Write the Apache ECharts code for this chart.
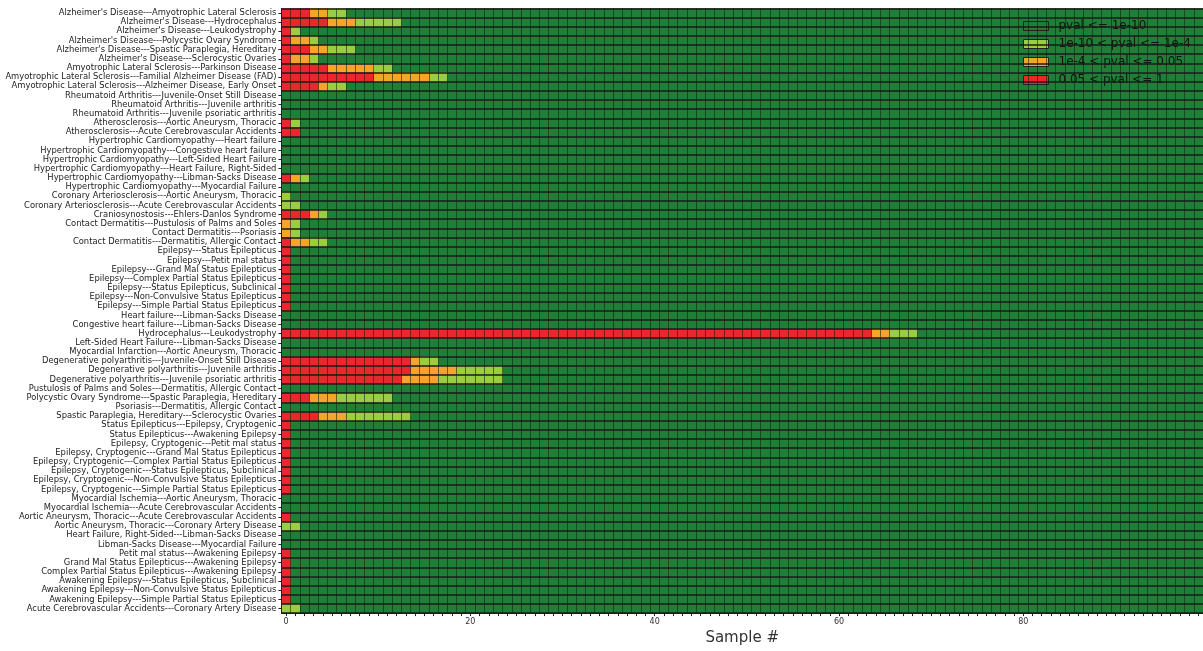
<!DOCTYPE html>
<html>
<head>
<meta charset="utf-8">
<script src="https://cdn.jsdelivr.net/npm/echarts@6/dist/echarts.min.js"></script>
<style>
  html, body { margin: 0; padding: 0; background: #ffffff; }
  #chart { width: 1203px; height: 651px; }
</style>
</head>
<body>
<div id="chart"></div>
<script>
// Disease pairs, one row each (top to bottom)
const pairLabels = [
  "Alzheimer's Disease---Amyotrophic Lateral Sclerosis",
  "Alzheimer's Disease---Hydrocephalus",
  "Alzheimer's Disease---Leukodystrophy",
  "Alzheimer's Disease---Polycystic Ovary Syndrome",
  "Alzheimer's Disease---Spastic Paraplegia, Hereditary",
  "Alzheimer's Disease---Sclerocystic Ovaries",
  "Amyotrophic Lateral Sclerosis---Parkinson Disease",
  "Amyotrophic Lateral Sclerosis---Familial Alzheimer Disease (FAD)",
  "Amyotrophic Lateral Sclerosis---Alzheimer Disease, Early Onset",
  "Rheumatoid Arthritis---Juvenile-Onset Still Disease",
  "Rheumatoid Arthritis---Juvenile arthritis",
  "Rheumatoid Arthritis---Juvenile psoriatic arthritis",
  "Atherosclerosis---Aortic Aneurysm, Thoracic",
  "Atherosclerosis---Acute Cerebrovascular Accidents",
  "Hypertrophic Cardiomyopathy---Heart failure",
  "Hypertrophic Cardiomyopathy---Congestive heart failure",
  "Hypertrophic Cardiomyopathy---Left-Sided Heart Failure",
  "Hypertrophic Cardiomyopathy---Heart Failure, Right-Sided",
  "Hypertrophic Cardiomyopathy---Libman-Sacks Disease",
  "Hypertrophic Cardiomyopathy---Myocardial Failure",
  "Coronary Arteriosclerosis---Aortic Aneurysm, Thoracic",
  "Coronary Arteriosclerosis---Acute Cerebrovascular Accidents",
  "Craniosynostosis---Ehlers-Danlos Syndrome",
  "Contact Dermatitis---Pustulosis of Palms and Soles",
  "Contact Dermatitis---Psoriasis",
  "Contact Dermatitis---Dermatitis, Allergic Contact",
  "Epilepsy---Status Epilepticus",
  "Epilepsy---Petit mal status",
  "Epilepsy---Grand Mal Status Epilepticus",
  "Epilepsy---Complex Partial Status Epilepticus",
  "Epilepsy---Status Epilepticus, Subclinical",
  "Epilepsy---Non-Convulsive Status Epilepticus",
  "Epilepsy---Simple Partial Status Epilepticus",
  "Heart failure---Libman-Sacks Disease",
  "Congestive heart failure---Libman-Sacks Disease",
  "Hydrocephalus---Leukodystrophy",
  "Left-Sided Heart Failure---Libman-Sacks Disease",
  "Myocardial Infarction---Aortic Aneurysm, Thoracic",
  "Degenerative polyarthritis---Juvenile-Onset Still Disease",
  "Degenerative polyarthritis---Juvenile arthritis",
  "Degenerative polyarthritis---Juvenile psoriatic arthritis",
  "Pustulosis of Palms and Soles---Dermatitis, Allergic Contact",
  "Polycystic Ovary Syndrome---Spastic Paraplegia, Hereditary",
  "Psoriasis---Dermatitis, Allergic Contact",
  "Spastic Paraplegia, Hereditary---Sclerocystic Ovaries",
  "Status Epilepticus---Epilepsy, Cryptogenic",
  "Status Epilepticus---Awakening Epilepsy",
  "Epilepsy, Cryptogenic---Petit mal status",
  "Epilepsy, Cryptogenic---Grand Mal Status Epilepticus",
  "Epilepsy, Cryptogenic---Complex Partial Status Epilepticus",
  "Epilepsy, Cryptogenic---Status Epilepticus, Subclinical",
  "Epilepsy, Cryptogenic---Non-Convulsive Status Epilepticus",
  "Epilepsy, Cryptogenic---Simple Partial Status Epilepticus",
  "Myocardial Ischemia---Aortic Aneurysm, Thoracic",
  "Myocardial Ischemia---Acute Cerebrovascular Accidents",
  "Aortic Aneurysm, Thoracic---Acute Cerebrovascular Accidents",
  "Aortic Aneurysm, Thoracic---Coronary Artery Disease",
  "Heart Failure, Right-Sided---Libman-Sacks Disease",
  "Libman-Sacks Disease---Myocardial Failure",
  "Petit mal status---Awakening Epilepsy",
  "Grand Mal Status Epilepticus---Awakening Epilepsy",
  "Complex Partial Status Epilepticus---Awakening Epilepsy",
  "Awakening Epilepsy---Status Epilepticus, Subclinical",
  "Awakening Epilepsy---Non-Convulsive Status Epilepticus",
  "Awakening Epilepsy---Simple Partial Status Epilepticus",
  "Acute Cerebrovascular Accidents---Coronary Artery Disease"
];

const sampleCount = 100;

// Samples are sorted by p-value within each row: the first ones are the
// least significant. Number of samples per row in each p-value band:
// 0.05 < pval <= 1
const redCells = [
  3, 5, 1, 1, 3, 1, 5, 10, 4,
  0, 0, 0,
  1, 2,
  0, 0, 0, 0,
  1, 0,
  0, 0,
  3, 0, 0, 1,
  1, 1, 1, 1, 1, 1, 1,
  0, 0,
  64,
  0, 0,
  14, 14, 13,
  0, 3, 0, 4,
  1, 1, 1, 1, 1, 1, 1, 1,
  0, 0,
  1, 0,
  0, 0,
  1, 1, 1, 1, 1, 1,
  0
];
// 1e-4 < pval <= 0.05
const orangeCells = [
  2, 3, 0, 2, 2, 2, 5, 6, 1,
  0, 0, 0,
  0, 0,
  0, 0, 0, 0,
  1, 0,
  0, 0,
  1, 1, 1, 2,
  0, 0, 0, 0, 0, 0, 0,
  0, 0,
  2,
  0, 0,
  1, 5, 4,
  0, 3, 0, 3,
  0, 0, 0, 0, 0, 0, 0, 0,
  0, 0,
  0, 0,
  0, 0,
  0, 0, 0, 0, 0, 0,
  0
];
// 1e-10 < pval <= 1e-4
const lightGreenCells = [
  2, 5, 1, 1, 3, 1, 2, 2, 2,
  0, 0, 0,
  1, 0,
  0, 0, 0, 0,
  1, 0,
  1, 2,
  1, 1, 1, 2,
  0, 0, 0, 0, 0, 0, 0,
  0, 0,
  3,
  0, 0,
  2, 5, 7,
  0, 6, 0, 7,
  0, 0, 0, 0, 0, 0, 0, 0,
  0, 0,
  0, 2,
  0, 0,
  0, 0, 0, 0, 0, 0,
  2
];

const bandNames = [
  'pval <= 1e-10',
  '1e-10 < pval <= 1e-4',
  '1e-4 < pval <= 0.05',
  '0.05 < pval <= 1'
];
const bandColors = ['#1f7f37', '#9acd3f', '#f6a42a', '#e8282c'];

const sampleLabels = Array.from({ length: sampleCount }, (_, i) => String(i));

// Split every (sample, row) cell into its band
const cellsByBand = [[], [], [], []];
pairLabels.forEach((_, row) => {
  const r = redCells[row];
  const o = orangeCells[row];
  const g = lightGreenCells[row];
  for (let s = 0; s < sampleCount; s++) {
    let band = 0;
    if (s < r) band = 3;
    else if (s < r + o) band = 2;
    else if (s < r + o + g) band = 1;
    cellsByBand[band].push([s, row, band]);
  }
});

const chart = echarts.init(document.getElementById('chart'), null, { renderer: 'canvas' });

const font = 'DejaVu Sans';

chart.setOption({
  animation: false,
  backgroundColor: '#ffffff',
  textStyle: { fontFamily: font },
  grid: { left: 281.4, top: 8.4, width: 923, height: 609.2, containLabel: false },
  legend: {
    orient: 'vertical',
    left: 1023,
    top: 20,
    padding: 0,
    itemWidth: 25,
    itemHeight: 9,
    itemGap: 6,
    icon: 'rect',
    selectedMode: false,
    data: bandNames,
    itemStyle: { borderColor: '#222222', borderWidth: 1 },
    textStyle: { fontSize: 12, color: '#111111', fontFamily: font, padding: [0, 0, 0, 5] }
  },
  xAxis: {
    type: 'category',
    data: sampleLabels,
    z: 5,
    name: 'Sample #',
    nameLocation: 'middle',
    nameGap: 17,
    nameTextStyle: { fontSize: 15, color: '#333333', fontFamily: font },
    axisLine: { show: true, lineStyle: { color: '#222222', width: 1 } },
    axisTick: { show: true, interval: 0, alignWithLabel: true, length: 3, lineStyle: { color: '#222222' } },
    axisLabel: { interval: 19, fontSize: 8, color: '#333333', margin: 5, fontFamily: font },
    splitLine: { show: true, interval: 0, lineStyle: { color: 'rgba(10,25,10,0.55)', width: 1 } }
  },
  yAxis: {
    type: 'category',
    data: pairLabels,
    inverse: true,
    z: 6,
    axisLine: { show: true, lineStyle: { color: '#222222', width: 1 } },
    axisTick: { show: true, interval: 0, alignWithLabel: true, length: 3, lineStyle: { color: '#222222' } },
    axisLabel: { interval: 0, fontSize: 8.4, color: '#222222', margin: 5, fontFamily: font },
    splitLine: { show: true, interval: 0, lineStyle: { color: '#1a1a1a', width: 1.5 } }
  },
  series: bandNames.map((name, i) => ({
    name: name,
    type: 'heatmap',
    data: cellsByBand[i],
    progressive: 0,
    itemStyle: { color: bandColors[i], borderWidth: 0 },
    emphasis: { disabled: true }
  }))
});
</script>
</body>
</html>
